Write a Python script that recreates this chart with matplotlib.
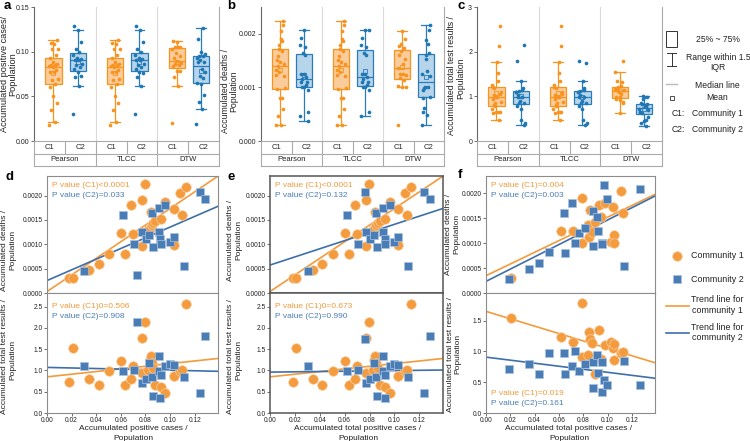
import numpy as np
import matplotlib
matplotlib.use('Agg')
import matplotlib.pyplot as plt
from matplotlib.colors import to_rgba

plt.rcParams['font.family'] = ['Liberation Sans', 'DejaVu Sans']

# ---------------- data (per city, per community, per method) ----------------
# Pearson grouping
pear_c1_pos = [0.0181, 0.0208, 0.0344, 0.0420, 0.0507, 0.0602, 0.0635, 0.0684, 0.0697, 0.0770, 0.0770, 0.0798, 0.0825,
               0.0835, 0.0846, 0.0852, 0.0865, 0.0880, 0.0928, 0.0961, 0.1029, 0.1029, 0.1083, 0.1097, 0.1132]
pear_c1_death = [0.00030, 0.00030, 0.00047, 0.00059, 0.00080, 0.00124, 0.00080, 0.00180, 0.00121, 0.00190, 0.00097, 0.00223,
                 0.00129, 0.00132, 0.00167, 0.00140, 0.00143, 0.00147, 0.00151, 0.00186, 0.00172, 0.00098, 0.00205, 0.00159, 0.00217]
pear_c1_test = [0.72, 1.53, 0.80, 0.65, 0.98, 1.22, 0.65, 0.79, 1.10, 1.77, 0.93, 2.13, 1.00, 1.25, 1.35, 1.18, 1.05, 0.65,
                0.62, 0.46, 0.86, 0.88, 0.98, 1.02, 2.57]
pear_c2_pos = [0.0304, 0.0621, 0.0711, 0.0730, 0.0770, 0.0805, 0.0833, 0.0852, 0.0861, 0.0907, 0.0907, 0.0920, 0.0928,
               0.0961, 0.1000, 0.1029, 0.1111, 0.1241, 0.1287]
pear_c2_death = [0.00046, 0.00161, 0.00101, 0.00037, 0.00125, 0.00111, 0.00120, 0.00164, 0.00095, 0.00175, 0.00125, 0.00110,
                 0.00100, 0.00180, 0.00105, 0.00115, 0.00055, 0.00207, 0.00192]
pear_c2_test = [1.10, 0.98, 1.02, 2.15, 0.71, 0.79, 1.18, 0.85, 0.41, 1.35, 0.98, 0.36, 0.90, 1.10, 1.14, 1.12, 0.85, 0.46, 1.80]

# TLCC grouping
tlcc_c1_pos = [0.0181, 0.0208, 0.0344, 0.0420, 0.0507, 0.0602, 0.0635, 0.0684, 0.0697, 0.0770, 0.0770, 0.0798, 0.0825,
               0.0835, 0.0846, 0.0852, 0.0865, 0.0880, 0.0928, 0.0961, 0.1029, 0.1029, 0.1083, 0.1097, 0.1132]
tlcc_c1_death = [0.00030, 0.00030, 0.00047, 0.00059, 0.00080, 0.00124, 0.00080, 0.00180, 0.00121, 0.00190, 0.00097, 0.00223,
                 0.00129, 0.00132, 0.00167, 0.00140, 0.00143, 0.00147, 0.00151, 0.00186, 0.00172, 0.00098, 0.00205, 0.00159, 0.00217]
tlcc_c1_test = [0.72, 1.53, 0.80, 0.65, 0.98, 1.22, 0.65, 0.79, 1.10, 1.77, 0.93, 2.13, 1.00, 1.25, 1.35, 1.18, 1.05, 0.65,
                0.62, 0.46, 0.86, 0.88, 0.98, 1.02, 2.57]
tlcc_c2_pos = [0.0304, 0.0621, 0.0711, 0.0765, 0.0770, 0.0805, 0.0833, 0.0852, 0.0861, 0.0907, 0.0907, 0.0920, 0.0928,
               0.0961, 0.1000, 0.1029, 0.1111, 0.1241, 0.1287]
tlcc_c2_death = [0.00046, 0.00161, 0.00101, 0.00207, 0.00125, 0.00111, 0.00120, 0.00164, 0.00095, 0.00175, 0.00125, 0.00110,
                 0.00100, 0.00180, 0.00105, 0.00115, 0.00055, 0.00207, 0.00192]
tlcc_c2_test = [1.10, 0.98, 1.02, 1.75, 0.71, 0.79, 1.18, 0.85, 0.41, 1.35, 0.98, 0.36, 0.90, 1.10, 1.14, 1.12, 0.85, 0.46, 1.80]

# DTW grouping
dtw_c1_pos = [0.0205, 0.0613, 0.0716, 0.0789, 0.0789, 0.0838, 0.0849, 0.0857, 0.0871, 0.0893, 0.0931, 0.0947, 0.0980,
              0.1029, 0.1048, 0.1056, 0.1056, 0.1110, 0.1123]
dtw_c1_death = [0.00030, 0.00125, 0.00125, 0.00191, 0.00100, 0.00137, 0.00113, 0.00167, 0.00123, 0.00143, 0.00177, 0.00153,
                0.00181, 0.00103, 0.00173, 0.00117, 0.00100, 0.00205, 0.00160]
dtw_c1_test = [1.54, 1.23, 1.16, 1.79, 0.91, 0.94, 1.32, 1.20, 1.14, 0.63, 1.35, 0.88, 1.10, 1.16, 1.05, 1.12, 0.86, 0.98, 0.99]
dtw_c2_pos = [0.0186, 0.0355, 0.0436, 0.0518, 0.0640, 0.0648, 0.0708, 0.0730, 0.0768, 0.0811, 0.0879, 0.0884, 0.0911,
              0.0925, 0.0952, 0.0952, 0.0974, 0.0993, 0.1137, 0.1270]
dtw_c2_death = [0.00029, 0.00048, 0.00061, 0.00082, 0.00161, 0.00081, 0.00181, 0.00101, 0.00121, 0.00130, 0.00095, 0.00165,
                0.00153, 0.00125, 0.00101, 0.00098, 0.00217, 0.00188, 0.00055, 0.00208]
dtw_c2_test = [0.72, 0.79, 0.63, 0.98, 0.98, 0.64, 0.76, 1.00, 0.69, 0.80, 0.41, 0.83, 0.95, 0.65, 0.34, 0.83, 0.54, 0.45,
               0.84, 0.46]

methods = ['Pearson', 'TLCC', 'DTW']
communities = ['C1', 'C2']
p_texts = {
    'Pearson': (['P value (C1)<0.0001', 'P value (C2)=0.033'], ['P value (C1)0=0.506', 'P value (C2)=0.908']),
    'TLCC': (['P value (C1)<0.0001', 'P value (C2)=0.132'], ['P value (C1)0=0.673', 'P value (C2)=0.990']),
    'DTW': (['P value (C1)=0.004', 'P value (C2)=0.003'], ['P value (C1)=0.019', 'P value (C2)=0.161']),
}

groups = {
    'Pearson': ((pear_c1_pos, pear_c1_death, pear_c1_test), (pear_c2_pos, pear_c2_death, pear_c2_test)),
    'TLCC': ((tlcc_c1_pos, tlcc_c1_death, tlcc_c1_test), (tlcc_c2_pos, tlcc_c2_death, tlcc_c2_test)),
    'DTW': ((dtw_c1_pos, dtw_c1_death, dtw_c1_test), (dtw_c2_pos, dtw_c2_death, dtw_c2_test)),
}

# ---------------- styling ----------------
C1_EDGE, C1_FACE, C1_PT = '#F7941D', '#FBC48A', '#F7931E'
C2_EDGE, C2_FACE, C2_PT = '#2B7BBA', '#A9CEE8', '#1F77B4'
SC_O, SC_O_E = '#F39B3D', '#F9CDA0'
SC_B, SC_B_E = '#4A7DB6', '#A9C2DF'
LN_O, LN_B = '#F39A3C', '#3E6FAA'
TXT = '#222222'

W, H = 750, 441
fig = plt.figure(figsize=(7.5, 4.41), dpi=100)


def rect(x0, y0, x1, y1):
    return [x0 / W, 1 - y1 / H, (x1 - x0) / W, (y1 - y0) / H]


ov = fig.add_axes([0, 0, 1, 1])
ov.set_xlim(0, W)
ov.set_ylim(H, 0)
ov.axis('off')
ov.patch.set_alpha(0)
ov.set_zorder(20)

box_pos = [1.13, 1.92, 3.13, 3.92, 5.13, 5.92]


def jitter(n):
    return ((np.arange(n) * 0.61803398875) % 1.0 - 0.5) * 0.30


def box_panel(x0, x1, metric, ylim, yticks, yticklabels):
    ax = fig.add_axes(rect(x0, 7, x1, 141))
    k = 0
    for m in methods:
        for ci, comm in enumerate(communities):
            vals = np.array(groups[m][ci][metric])
            edge = C1_EDGE if ci == 0 else C2_EDGE
            face = C1_FACE if ci == 0 else C2_FACE
            pt = C1_PT if ci == 0 else C2_PT
            p = box_pos[k]
            ax.boxplot(vals, positions=[p], widths=0.53, patch_artist=True, showfliers=False,
                       showmeans=True, whis=1.5, capwidths=0.32,
                       boxprops=dict(facecolor=to_rgba(face, 0.85), edgecolor=edge, linewidth=0.9),
                       medianprops=dict(color=edge, linewidth=0.9),
                       whiskerprops=dict(color=edge, linewidth=0.9),
                       capprops=dict(color=edge, linewidth=0.9),
                       meanprops=dict(marker='s', markerfacecolor='none', markeredgecolor=edge,
                                      markersize=3.2, markeredgewidth=0.6))
            ax.scatter(p + jitter(len(vals)), vals, s=7, color=pt, zorder=3, linewidths=0)
            k += 1
    for xs in (2.5, 4.5):
        ax.axvline(xs, color='#DADADA', lw=0.8, zorder=0)
    ax.set_xlim(0.5, 6.5)
    ax.set_ylim(*ylim)
    ax.set_xticks([])
    ax.set_yticks(yticks)
    ax.set_yticklabels(yticklabels)
    ax.tick_params(axis='y', labelsize=5, length=2, width=0.6, pad=1.5, colors='#555555', labelcolor=TXT)
    ax.spines['top'].set_visible(False)
    ax.spines['left'].set_color('#666666')
    ax.spines['right'].set_color('#AAAAAA')
    ax.spines['bottom'].set_color('#AAAAAA')
    for s in ax.spines.values():
        s.set_linewidth(0.8)

    tb = fig.add_axes(rect(x0, 141, x1, 166))
    tb.set_xlim(0.5, 6.5)
    tb.set_ylim(0, 2)
    tb.axis('off')
    lc = '#AAAAAA'
    for yy in (0, 1):
        tb.plot([0.5, 6.5], [yy, yy], color=lc, lw=0.8, clip_on=False)
    for xx in (0.5, 2.5, 4.5, 6.5):
        tb.plot([xx, xx], [0, 2], color=lc, lw=0.8, clip_on=False)
    for xx in (1.5, 3.5, 5.5):
        tb.plot([xx, xx], [1, 2], color=lc, lw=0.8, clip_on=False)
    for i in range(6):
        tb.text(i + 1, 1.5, communities[i % 2], ha='center', va='center', fontsize=5.5, color=TXT)
    for i, m in enumerate(methods):
        tb.text(2 * i + 1.5, 0.5, m, ha='center', va='center', fontsize=5.5, color=TXT)
    return ax


box_panel(34, 219, 0, (0, 0.15), [0, 0.05, 0.10, 0.15], ['0.00', '0.05', '0.10', '0.15'])
box_panel(261, 444, 1, (0, 0.0025), [0, 0.001, 0.002], ['0.000', '0.001', '0.002'])
box_panel(477, 662, 2, (0, 3), [0, 1, 2, 3], ['0', '1', '2', '3'])

# ---------------- scatter panels ----------------
XMAX = 0.139
xticks = [0, 0.02, 0.04, 0.06, 0.08, 0.10, 0.12]


def style_frame(ax, color, lw):
    for s in ax.spines.values():
        s.set_color(color)
        s.set_linewidth(lw)


def scatter_panel(x0, x1, m, top_ylim, bot_ylim, bot_ticks, frame_color, frame_lw, bottom_text_low):
    (c1, c2) = groups[m]
    axt = fig.add_axes(rect(x0, 176, x1, 293))
    axb = fig.add_axes(rect(x0, 293, x1, 413))
    xs = np.array([0, XMAX])
    for ax, idx, ylim in ((axt, 1, top_ylim), (axb, 2, bot_ylim)):
        for data, mk, col, ecol, sz, lcol in ((c1, 'o', SC_O, SC_O_E, 48, LN_O), (c2, 's', SC_B, SC_B_E, 38, LN_B)):
            xv = np.array(data[0])
            yv = np.array(data[idx])
            ax.scatter(xv, yv, s=sz, marker=mk, color=col, edgecolors=ecol, linewidths=0.5, zorder=3)
            k, b = np.polyfit(xv, yv, 1)
            ax.plot(xs, k * xs + b, color=lcol, lw=1.2, zorder=2)
        ax.set_xlim(0, XMAX)
        ax.set_ylim(*ylim)
        style_frame(ax, frame_color, frame_lw)
        ax.tick_params(labelsize=4.8, length=2, width=0.6, pad=1, colors='#555555', labelcolor=TXT)
    axt.set_yticks([0, 0.0005, 0.0010, 0.0015, 0.0020])
    axt.set_yticklabels(['0.0000', '0.0005', '0.0010', '0.0015', '0.0020'])
    axt.set_xticks([])
    axb.set_yticks(bot_ticks)
    axb.set_yticklabels(['%.1f' % t for t in bot_ticks])
    axb.set_xticks(xticks)
    axb.set_xticklabels(['%.2f' % t for t in xticks])
    ttop, tbot = p_texts[m]
    axt.text(0.03, 0.92, ttop[0], transform=axt.transAxes, color=LN_O, fontsize=6, va='center')
    axt.text(0.03, 0.835, ttop[1], transform=axt.transAxes, color=SC_B, fontsize=6, va='center')
    if bottom_text_low:
        axb.text(0.03, 0.165, tbot[0], transform=axb.transAxes, color=LN_O, fontsize=6, va='center')
        axb.text(0.03, 0.08, tbot[1], transform=axb.transAxes, color=SC_B, fontsize=6, va='center')
    else:
        axb.text(0.03, 0.89, tbot[0], transform=axb.transAxes, color=LN_O, fontsize=6, va='center')
        axb.text(0.03, 0.80, tbot[1], transform=axb.transAxes, color=SC_B, fontsize=6, va='center')


scatter_panel(47, 218, 'Pearson', (0, 0.0024), (0, 2.82), [0, 0.5, 1.0, 1.5, 2.0, 2.5], '#8C8C8C', 0.8, False)
scatter_panel(270, 443, 'TLCC', (0, 0.0024), (0, 2.82), [0, 0.5, 1.0, 1.5, 2.0, 2.5], '#555555', 1.1, False)
scatter_panel(486, 655, 'DTW', (0, 0.00235), (0, 1.95), [0, 0.5, 1.0, 1.5], '#8C8C8C', 0.8, True)


# ---------------- axis labels (figure pixel coordinates) ----------------
def vlabel(x, y, s, fs):
    ov.text(x, y, s, rotation=90, ha='center', va='center', fontsize=fs, color=TXT)


def hlabel(x, y, s, fs):
    ov.text(x, y, s, ha='center', va='center', fontsize=fs, color=TXT)


vlabel(5, 74, 'Accumulated positive cases/', 6.6)
vlabel(12.5, 74, 'Population', 6.6)
vlabel(225.5, 91, 'Accumulated deaths /', 6.3)
vlabel(234, 91, 'Population', 6.3)
vlabel(451, 76, 'Accumulated total test results /', 6.3)
vlabel(461, 78, 'Population', 6.3)

vlabel(5, 250, 'Accumulated deaths /', 6)
vlabel(12.5, 250, 'Population', 6)
vlabel(5, 357, 'Accumulated total test results /', 6)
vlabel(12.5, 360, 'Population', 6)
vlabel(230, 240, 'Accumulated deaths /', 6)
vlabel(238.5, 240, 'Population', 6)
vlabel(231, 356, 'Accumulated total test results /', 6)
vlabel(239, 360, 'Population', 6)
vlabel(449, 234, 'Accumulated deaths /', 6)
vlabel(457, 234, 'Population', 6)
vlabel(450, 354, 'Accumulated total test results /', 6)
vlabel(458, 354, 'Population', 6)

hlabel(133, 428.5, 'Accumulated positive cases /', 6)
hlabel(133, 438, 'Population', 6)
hlabel(358, 428.5, 'Accumulated total positive cases /', 6)
hlabel(358, 438, 'Population', 6)
hlabel(569, 428.5, 'Accumulated total positive cases /', 6)
hlabel(569, 438, 'Population', 6)

# panel letters
for ch, x, y in (('a', 4, 0), ('b', 227, 0), ('c', 457, 0), ('d', 5, 171), ('e', 227, 171), ('f', 458, 169)):
    ov.text(x, y, ch, fontsize=9.5, fontweight='bold', va='top', ha='left', color='black')

# ---------------- legends (drawn as annotations) ----------------
ov.add_patch(plt.Rectangle((666, 31), 11, 16, fill=False, edgecolor='#333333', lw=0.7))
ov.plot([671.5, 671.5], [53, 66], color='#333333', lw=0.7)
ov.plot([667, 676], [53, 53], color='#333333', lw=0.7)
ov.plot([667, 676], [66, 66], color='#333333', lw=0.7)
ov.plot([666, 677], [84, 84], color='#BBBBBB', lw=1.0)
ov.plot([671.5], [98], marker='s', markersize=3.5, markerfacecolor='none', markeredgecolor='#333333', markeredgewidth=0.6)
lfs = 6.2
hlabel(718, 39, '25% ~ 75%', lfs)
hlabel(718, 57, 'Range within 1.5', lfs)
hlabel(718, 67.5, 'IQR', lfs)
hlabel(717, 85, 'Median line', lfs)
hlabel(717, 98, 'Mean', lfs)
ov.text(672, 114, 'C1:', fontsize=lfs, va='center', ha='left', color=TXT)
ov.text(692, 114, 'Community 1', fontsize=lfs, va='center', ha='left', color=TXT)
ov.text(672, 130, 'C2:', fontsize=lfs, va='center', ha='left', color=TXT)
ov.text(692, 130, 'Community 2', fontsize=lfs, va='center', ha='left', color=TXT)

ov.scatter([677], [256], s=48, marker='o', color=SC_O, edgecolors=SC_O_E, linewidths=0.5)
ov.scatter([677], [279], s=38, marker='s', color=SC_B, edgecolors=SC_B_E, linewidths=0.5)
ov.text(691, 256, 'Community 1', fontsize=6.4, va='center', ha='left', color=TXT)
ov.text(691, 279, 'Community 2', fontsize=6.4, va='center', ha='left', color=TXT)
ov.plot([666, 689], [306, 306], color=LN_O, lw=1.2)
ov.plot([666, 689], [333, 333], color=LN_B, lw=1.2)
hlabel(717, 300, 'Trend line for', 6.4)
hlabel(717, 310.5, 'community 1', 6.4)
hlabel(717, 327, 'Trend line for', 6.4)
hlabel(717, 337.5, 'community 2', 6.4)

fig.savefig('out.png', dpi=100)
